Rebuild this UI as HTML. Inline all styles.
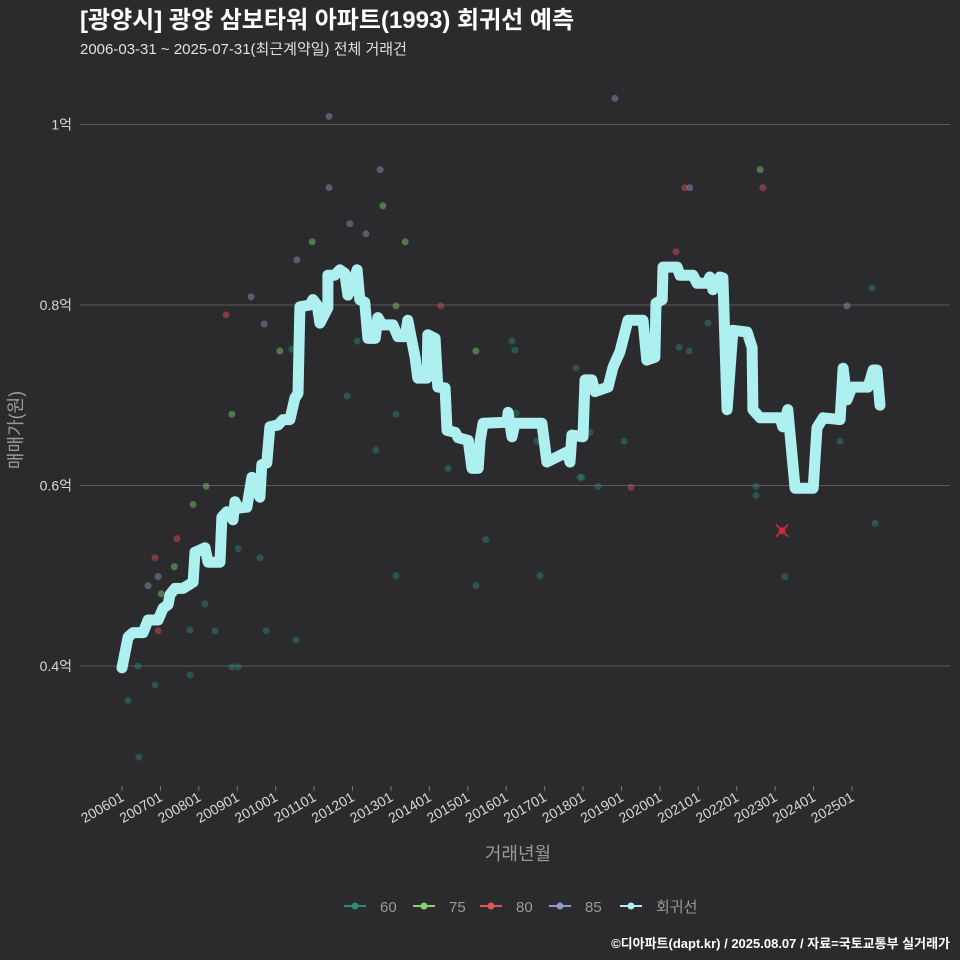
<!DOCTYPE html>
<html><head><meta charset="utf-8"><style>
html,body{margin:0;padding:0;background:#2b2b2d;}
svg{display:block;font-family:"Liberation Sans","Noto Sans CJK KR",sans-serif;}
</style></head><body>
<svg id="chart" width="960" height="960" viewBox="0 0 960 960" xmlns="http://www.w3.org/2000/svg">
<rect width="960" height="960" fill="#2b2b2d"/>
<text x="80" y="28" fill="#ffffff" font-size="24" font-weight="bold">[광양시] 광양 삼보타워 아파트(1993) 회귀선 예측</text>
<text x="80" y="54" fill="#e0e0e0" font-size="15">2006-03-31 ~ 2025-07-31(최근계약일) 전체 거래건</text>
<g id="grid"></g>
<g id="yticks"></g>
<g id="xticks"></g>
<g id="points"></g>
<g id="line"></g>
<g id="marker"></g>
<text x="518" y="860" fill="#9a9a9a" font-size="18" text-anchor="middle">거래년월</text>
<text transform="translate(22,430) rotate(-90)" fill="#9a9a9a" font-size="18" text-anchor="middle">매매가(원)</text>
<g id="legend"></g>
<text x="950" y="948" fill="#ffffff" font-size="13" font-weight="bold" text-anchor="end">©디아파트(dapt.kr) / 2025.08.07 / 자료=국토교통부 실거래가</text>
</svg>
<script>
const yTickValues=[0.4,0.6,0.8,1.0];
const yTickLabels=["0.4억","0.6억","0.8억","1억"];
const xTickYears=[2006,2007,2008,2009,2010,2011,2012,2013,2014,2015,2016,2017,2018,2019,2020,2021,2022,2023,2024,2025];
const xTickLabels=["200601","200701","200801","200901","201001","201101","201201","201301","201401","201501","201601","201701","201801","201901","202001","202101","202201","202301","202401","202501"];
const lineYears=[2006.00,2006.16,2006.29,2006.55,2006.68,2006.94,2007.07,2007.20,2007.25,2007.38,2007.59,2007.85,2007.90,2008.16,2008.24,2008.55,2008.60,2008.73,2008.89,2008.94,2009.02,2009.25,2009.38,2009.59,2009.64,2009.77,2009.85,2010.06,2010.19,2010.37,2010.50,2010.58,2010.63,2010.89,2010.97,2011.08,2011.15,2011.36,2011.36,2011.54,2011.67,2011.80,2011.88,2011.99,2012.12,2012.19,2012.32,2012.40,2012.59,2012.66,2012.77,2013.05,2013.18,2013.37,2013.44,2013.63,2013.70,2013.94,2013.96,2014.15,2014.22,2014.41,2014.46,2014.67,2014.75,2015.01,2015.11,2015.27,2015.32,2015.40,2016.02,2016.05,2016.15,2016.23,2016.93,2017.06,2017.58,2017.66,2017.71,2018.00,2018.05,2018.23,2018.31,2018.65,2018.78,2018.96,2019.17,2019.56,2019.66,2019.87,2019.90,2020.06,2020.08,2020.45,2020.52,2020.86,2020.97,2021.23,2021.30,2021.38,2021.56,2021.64,2021.75,2021.90,2022.27,2022.40,2022.42,2022.61,2023.13,2023.20,2023.33,2023.52,2023.99,2024.09,2024.25,2024.69,2024.77,2024.87,2025.00,2025.42,2025.55,2025.65,2025.73];
const lineValues=[0.398,0.432,0.437,0.437,0.451,0.451,0.464,0.468,0.479,0.486,0.486,0.493,0.526,0.531,0.515,0.515,0.565,0.571,0.562,0.582,0.575,0.576,0.609,0.587,0.623,0.625,0.665,0.667,0.673,0.673,0.697,0.702,0.798,0.800,0.806,0.800,0.780,0.797,0.833,0.833,0.839,0.835,0.811,0.822,0.839,0.806,0.803,0.763,0.763,0.786,0.778,0.778,0.765,0.765,0.783,0.742,0.719,0.719,0.767,0.763,0.709,0.708,0.661,0.659,0.653,0.650,0.619,0.619,0.650,0.669,0.670,0.681,0.654,0.669,0.669,0.626,0.637,0.626,0.656,0.654,0.717,0.717,0.704,0.709,0.731,0.748,0.783,0.783,0.739,0.742,0.802,0.806,0.842,0.842,0.833,0.833,0.824,0.824,0.831,0.817,0.831,0.830,0.684,0.772,0.770,0.753,0.684,0.675,0.675,0.665,0.684,0.597,0.597,0.664,0.675,0.673,0.730,0.695,0.709,0.709,0.728,0.728,0.689];
const s60Years=[2006.16,2006.42,2006.44,2006.86,2007.77,2007.77,2008.16,2008.42,2008.86,2009.02,2009.02,2009.59,2009.75,2010.53,2010.42,2011.86,2012.12,2012.61,2013.13,2013.13,2014.49,2015.21,2015.47,2016.15,2016.23,2016.26,2016.88,2016.80,2017.82,2017.92,2017.97,2018.18,2018.39,2019.07,2020.50,2020.76,2021.25,2022.50,2022.50,2023.26,2024.69,2025.52,2025.60];
const s60Values=[0.362,0.400,0.299,0.379,0.390,0.440,0.469,0.439,0.399,0.399,0.530,0.520,0.439,0.429,0.751,0.699,0.760,0.639,0.500,0.679,0.619,0.489,0.540,0.760,0.750,0.680,0.500,0.649,0.730,0.609,0.609,0.659,0.599,0.649,0.753,0.749,0.780,0.599,0.589,0.499,0.649,0.819,0.558];
const s75Years=[2007.02,2007.36,2007.85,2008.19,2008.86,2010.11,2010.95,2012.79,2013.13,2013.37,2015.21,2022.61];
const s75Values=[0.480,0.510,0.579,0.599,0.679,0.749,0.870,0.910,0.799,0.870,0.749,0.950];
const s80Years=[2006.86,2006.94,2007.43,2008.71,2014.30,2019.25,2020.42,2020.65,2022.68];
const s80Values=[0.520,0.439,0.541,0.789,0.799,0.598,0.859,0.930,0.930];
const s85Years=[2006.68,2006.94,2009.36,2009.70,2010.55,2011.39,2011.39,2011.93,2012.35,2012.72,2018.83,2020.78,2024.87];
const s85Values=[0.489,0.499,0.809,0.779,0.850,0.930,1.009,0.890,0.879,0.950,1.029,0.930,0.799];
const predYear=[2023.18];
const predValue=[0.550];
const legendLabels=["60","75","80","85","회귀선"];
const NS="http://www.w3.org/2000/svg";
const X=yr=>122+(yr-2006)*38.42;
const Y=v=>666-(v-0.4)*902.5;
function mk(tag,attrs,parent){const e=document.createElementNS(NS,tag);for(const k in attrs)e.setAttribute(k,attrs[k]);parent.appendChild(e);return e;}
const grid=document.getElementById('grid'),yt=document.getElementById('yticks'),xt=document.getElementById('xticks');
yTickValues.forEach((v,i)=>{
 const l=mk('line',{x1:80,x2:950,y1:Y(v),y2:Y(v),stroke:'#5a5a5a','stroke-width':1},grid);
 
 
 const t=mk('text',{x:72,y:Y(v)+5,fill:'#d8d8d8','font-size':14,'text-anchor':'end'},yt);
 t.textContent=yTickLabels[i];
 
 
});
xTickYears.forEach((yr,i)=>{
 const x=X(yr);
 const tk=mk('line',{x1:x,x2:x,y1:786,y2:791,stroke:'#777','stroke-width':1},xt);
 
 
 const t=mk('text',{transform:`translate(${x+3},${800}) rotate(-30)`,fill:'#d8d8d8','font-size':14,'text-anchor':'end'},xt);
 t.textContent=xTickLabels[i];
 
 
});
const pts=document.getElementById('points');
const series=[[s60Years,s60Values,'#2f8a78'],[s75Years,s75Values,'#86d36e'],[s80Years,s80Values,'#e0555a'],[s85Years,s85Values,'#8a9cc8']];
series.forEach(([ys,vs,c])=>{ys.forEach((yr,i)=>{
 const p=mk('circle',{cx:X(yr),cy:Y(vs[i]),r:3.5,fill:c,'fill-opacity':0.45},pts);
 
 
});});
const d=lineYears.map((yr,i)=>(i?'L':'M')+X(yr).toFixed(1)+','+Y(lineValues[i]).toFixed(1)).join(' ');
const path=mk('path',{d:d,fill:'none',stroke:'#aef0f0','stroke-width':11,'stroke-linejoin':'round','stroke-linecap':'round'},document.getElementById('line'));


const mg=document.getElementById('marker');
predYear.forEach((yr,i)=>{
 const cx=X(yr),cy=Y(predValue[i]);
 const c=mk('circle',{cx:cx,cy:cy,r:3.5,fill:'#c0303a'},mg);
 
 
 const p=mk('path',{d:`M${cx-6},${cy-6}L${cx+6},${cy+6}M${cx+6},${cy-6}L${cx-6},${cy+6}`,stroke:'#d02a30','stroke-width':1.6},mg);
 
 
});
const lg=document.getElementById('legend');
const lgColors=['#2f8a78','#86d36e','#e0555a','#8a9cc8','#aef0f0'];
const lgX=[344,413,480,549,620];
legendLabels.forEach((lab,i)=>{
 const g=mk('g',{},lg);
 
 
 mk('line',{x1:lgX[i],x2:lgX[i]+22,y1:906,y2:906,stroke:lgColors[i],'stroke-width':2},g);
 mk('circle',{cx:lgX[i]+11,cy:906,r:3.5,fill:lgColors[i]},g);
 const t=mk('text',{x:lgX[i]+36,y:912,fill:'#9a9a9a','font-size':15},g);
 t.textContent=lab;
});
</script>
</body></html>
